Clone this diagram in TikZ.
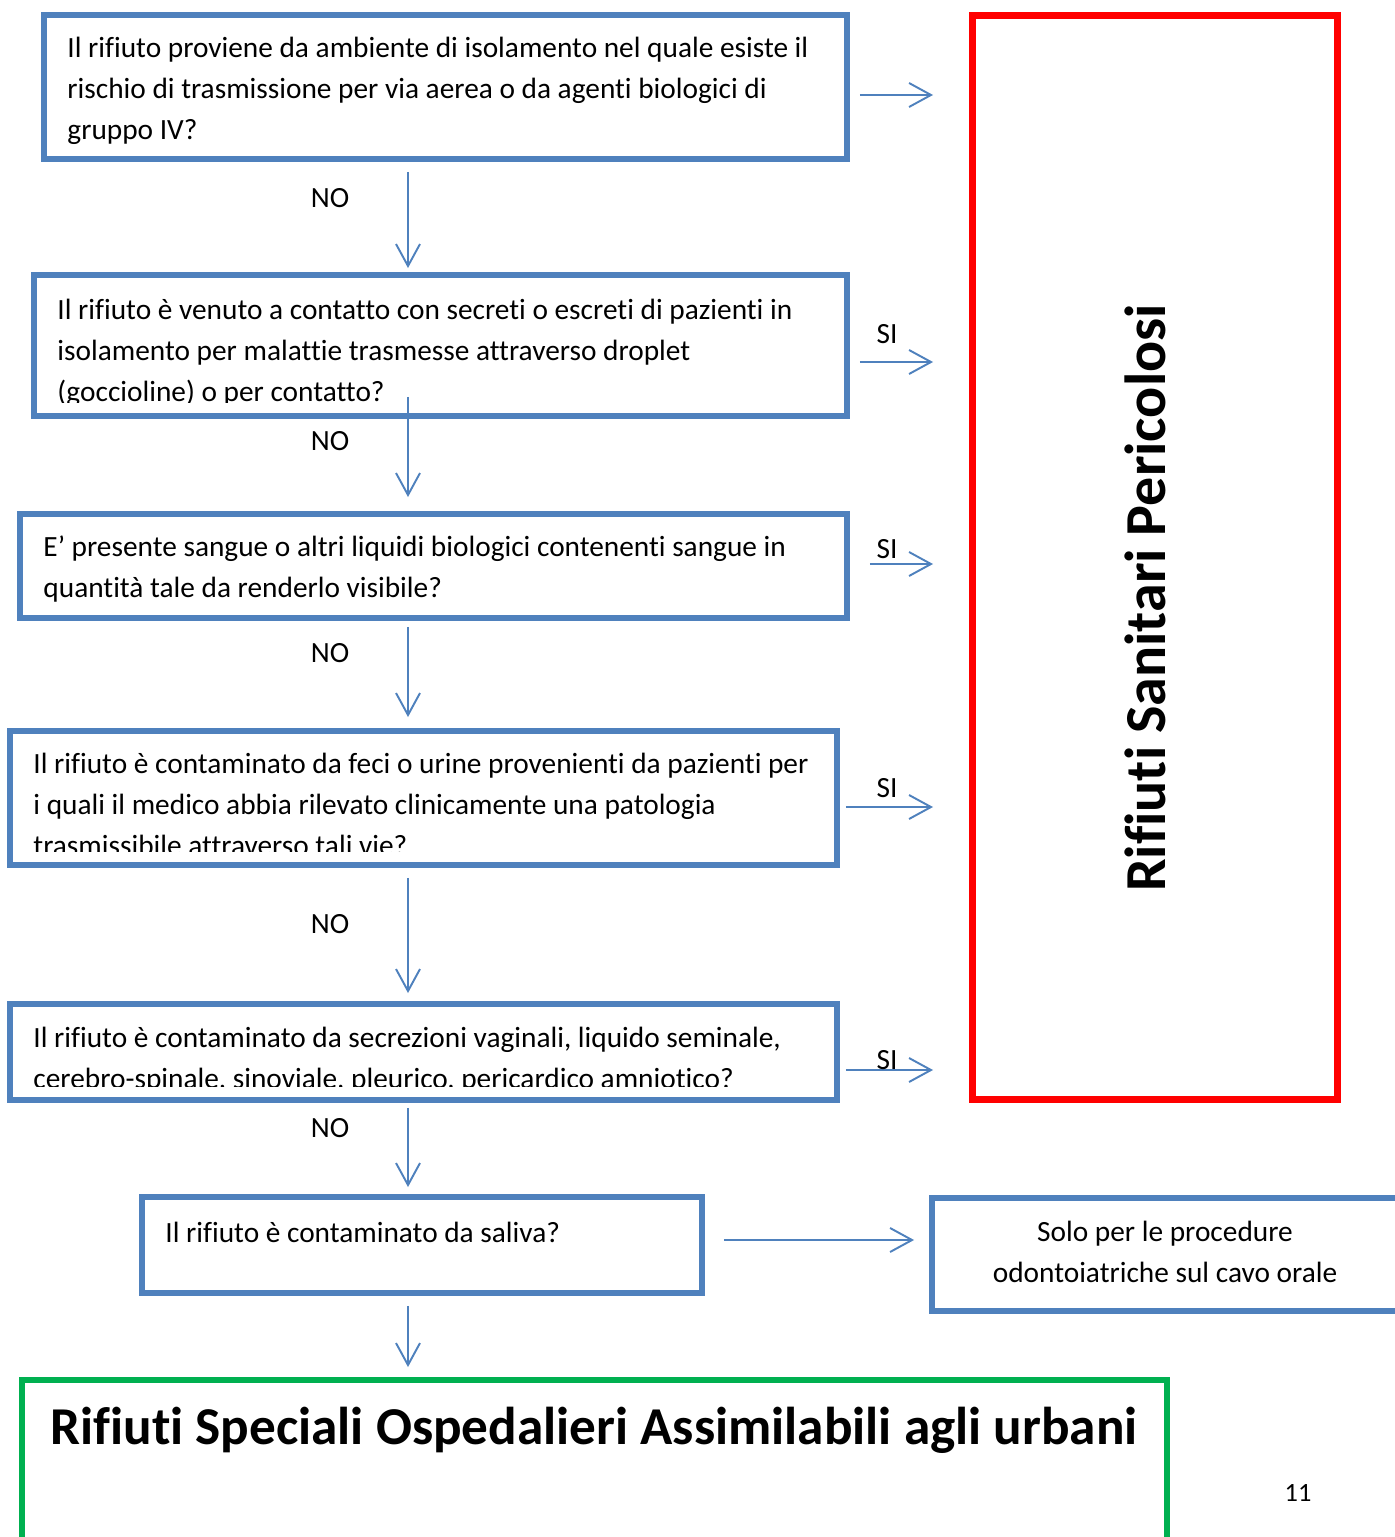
\documentclass[tikz,border=0pt]{standalone}
\usepackage{fontspec}
\setmainfont{Carlito}[Ligatures=NoCommon]
\usepackage{xcolor}
\usetikzlibrary{arrows.meta, positioning}

\definecolor{boxblue}{HTML}{4F81BD}
\definecolor{hazred}{HTML}{FF0000}
\definecolor{urbgreen}{HTML}{00B050}

\tikzset{
  qbox/.style={draw=boxblue, line width=3.4pt, inner sep=0pt},
  qtext/.style={anchor=north west, inner sep=0pt, align=left, font=\fontsize{16.7}{23.3}\selectfont},
  lbl/.style={inner sep=0pt, font=\fontsize{16.7}{20}\selectfont},
  arr/.style={draw=boxblue, line width=1.1pt, -{Straight Barb[length=0.44cm, width=0.48cm]}},
}

\begin{document}
\begin{tikzpicture}[x=0.02cm, y=-0.02cm]
  \useasboundingbox (0,0) rectangle (1394,1537);

  % question boxes
  \node[qbox, minimum width=16.06cm, minimum height=2.88cm] (q1) at (445.5,87) {};
  \node[qbox, minimum width=16.26cm, minimum height=2.82cm] (q2) at (440.5,345.5) {};
  \node[qbox, minimum width=16.54cm, minimum height=2.08cm] (q3) at (433.5,566) {};
  \node[qbox, minimum width=16.54cm, minimum height=2.68cm] (q4) at (423.5,798) {};
  \node[qbox, minimum width=16.54cm, minimum height=1.92cm] (q5) at (423.5,1052) {};
  \node[qbox, minimum width=11.2cm, minimum height=1.92cm] (q6) at (422,1245) {};
  \node[qbox, minimum width=9.76cm, minimum height=2.26cm] (solo) at (1176,1254.5) {};

  % result boxes
  \node[draw=hazred, line width=4pt, minimum width=7.32cm, minimum height=21.7cm] (red) at (1155,557.5) {};
  \node[draw=urbgreen, line width=3.4pt, minimum width=22.9cm, minimum height=4.8cm] (green) at (594.5,1500) {};

  % texts
  \begin{scope}
    \clip (q1.north west) rectangle ([yshift=0.32cm]q1.south east);
    \node[qtext] (t1) at ([shift={(26,25)}]q1.north west) {Il rifiuto proviene da ambiente di isolamento nel quale esiste il\\
      rischio di trasmissione per via aerea o da agenti biologici di\\ gruppo IV?};
  \end{scope}
  \begin{scope}
    \clip (q2.north west) rectangle ([yshift=0.32cm]q2.south east);
    \node[qtext] (t2) at ([shift={(26,27)}]q2.north west) {Il rifiuto è venuto a contatto con secreti o escreti di pazienti in\\
      isolamento per malattie trasmesse attraverso droplet\\ (goccioline) o per contatto?};
  \end{scope}
  \node[qtext] (t3) at ([shift={(26,24)}]q3.north west) {E’ presente sangue o altri liquidi biologici contenenti sangue in\\
    quantità tale da renderlo visibile?};
  \begin{scope}
    \clip (q4.north west) rectangle ([yshift=0.32cm]q4.south east);
    \node[qtext] (t4) at ([shift={(26,25)}]q4.north west) {Il rifiuto è contaminato da feci o urine provenienti da pazienti per\\
      i quali il medico abbia rilevato clinicamente una patologia\\ trasmissibile attraverso tali vie?};
  \end{scope}
  \begin{scope}
    \clip (q5.north west) rectangle ([yshift=0.32cm]q5.south east);
    \node[qtext] (t5) at ([shift={(26,26)}]q5.north west) {Il rifiuto è contaminato da secrezioni vaginali, liquido seminale,\\
      cerebro-spinale, sinoviale, pleurico, pericardico amniotico?};
  \end{scope}
  \node[qtext] (t6) at ([shift={(26,28)}]q6.north west) {Il rifiuto è contaminato da saliva?};
  \node[lbl, align=center, font=\fontsize{16.7}{23.3}\selectfont] (tsolo) at (1165,1252) {Solo per le procedure\\ odontoiatriche sul cavo orale};

  \node[rotate=90, inner sep=0pt, font=\bfseries\fontsize{33}{40}\selectfont] (thaz) at (1145,598) {Rifiuti Sanitari Pericolosi};
  \node[inner sep=0pt, font=\bfseries\fontsize{30.3}{40}\selectfont] (turb) at (594,1430) {Rifiuti Speciali Ospedalieri Assimilabili agli urbani};
  \node[inner sep=0pt, font=\fontsize{15}{18}\selectfont] (page) at (1298,1493) {11};

  % NO arrows
  \coordinate (col) at (408,0);
  \draw[arr, shorten <=0.2cm, shorten >=0.08cm] (q1.south -| col) -- (q2.north -| col);
  \draw[arr, shorten <=-0.44cm, shorten >=0.28cm] (q2.south -| col) -- (q3.north -| col);
  \draw[arr, shorten <=0.12cm, shorten >=0.22cm] (q3.south -| col) -- (q4.north -| col);
  \draw[arr, shorten <=0.2cm, shorten >=0.16cm] (q4.south -| col) -- (q5.north -| col);
  \draw[arr, shorten <=0.1cm, shorten >=0.14cm] (q5.south -| col) -- (q6.north -| col);
  \draw[arr, shorten <=0.2cm, shorten >=0.2cm] (q6.south -| col) -- (green.north -| col);
  \node[lbl] (no1) at (330,198) {NO};
  \node[lbl] (no2) at (330,441) {NO};
  \node[lbl] (no3) at (330,653) {NO};
  \node[lbl] (no4) at (330,924) {NO};
  \node[lbl] (no5) at (330,1128) {NO};

  % SI arrows
  \foreach \n/\y/\g in {1/95/0.2, 2/362/0.2, 3/564/0.4, 4/807/0.12, 5/1070/0.12}
    \draw[arr, shorten <=\g cm, shorten >=0.71cm] (q\n.east |- 0,\y) -- (red.west |- 0,\y);
  \draw[arr, shorten <=0.38cm, shorten >=0.3cm] (q6.east |- 0,1240) -- (solo.west |- 0,1240);
  \node[lbl] (si2) at (887,334) {SI};
  \node[lbl] (si3) at (887,549) {SI};
  \node[lbl] (si4) at (887,788) {SI};
  \node[lbl] (si5) at (887,1060) {SI};
\end{tikzpicture}
\end{document}
